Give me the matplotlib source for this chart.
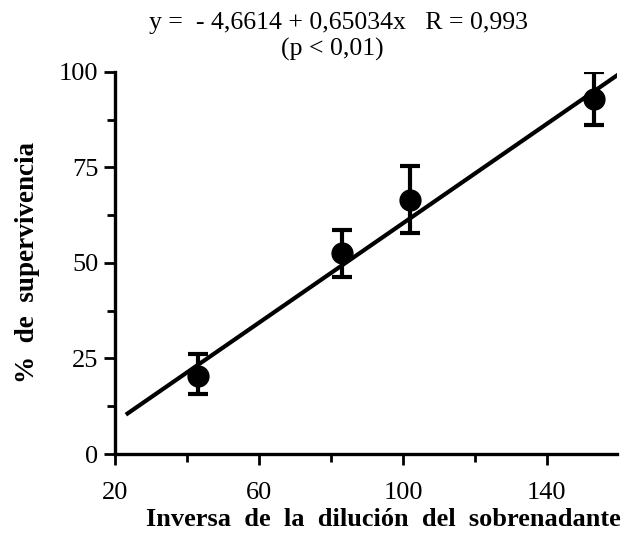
import numpy as np
import matplotlib.pyplot as plt

plt.rcParams['font.family'] = ['Liberation Serif', 'DejaVu Serif']

# datos
dilucion = [43, 83, 102, 153]
supervivencia = [20.5, 52.5, 66.5, 93]
err_inf = [4.8, 6.2, 8.6, 6.8]
err_sup = [5.7, 6.1, 8.9, 7.0]

# recta de regresion
a, b = -4.6614, 0.65034
x_fit = np.array([23, 160])

fig = plt.figure(figsize=(6.22, 5.44), dpi=100)
ax = fig.add_axes([0.185, 0.1654, 0.807, 0.7026])

ax.plot(x_fit, a + b * x_fit, color='black', lw=3, solid_capstyle='butt')
ax.errorbar(dilucion, supervivencia, yerr=[err_inf, err_sup], fmt='o',
            color='black', ms=15, elinewidth=3, capsize=7, capthick=3)

ax.set_xlim(20, 159.5)
ax.set_ylim(0, 100)
ax.spines['top'].set_visible(False)
ax.spines['right'].set_visible(False)
ax.spines['left'].set_linewidth(2.4)
ax.spines['bottom'].set_linewidth(2.4)

ax.set_xticks([20, 60, 100, 140])
ax.set_xticks([40, 80, 120], minor=True)
ax.set_yticks([0, 25, 50, 75, 100])
ax.set_yticks([12.5, 37.5, 62.5, 87.5], minor=True)
ax.tick_params(which='major', direction='out', length=8, width=2, labelsize=19, pad=4)
ax.tick_params(which='minor', direction='out', length=6, width=2)
ax.tick_params(axis='x', pad=12)

ax.set_xlabel('Inversa  de  la  dilución  del  sobrenadante', fontsize=19,
              fontweight='bold')
ax.set_ylabel('%  de  supervivencia', fontsize=19.5, fontweight='bold')
ax.xaxis.set_label_coords(0.535, -0.14)
ax.yaxis.set_label_coords(-0.15, 0.5)

fig.text(0.545, 0.957, 'y =  - 4,6614 + 0,65034x   R = 0,993', ha='center',
         va='center', fontsize=18.5)
fig.text(0.535, 0.91, '(p < 0,01)', ha='center', va='center', fontsize=18.5)

fig.savefig('out.png', dpi=100)
